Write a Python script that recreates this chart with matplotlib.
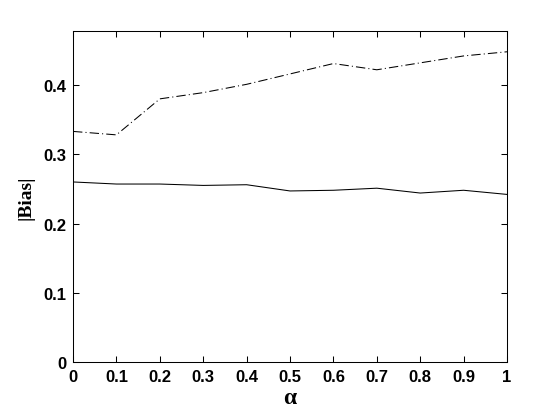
import numpy as np
import matplotlib
matplotlib.use("Agg")
import matplotlib.pyplot as plt
from matplotlib.font_manager import FontProperties

# values
alpha = [0.0, 0.1, 0.2, 0.3, 0.4, 0.5, 0.6, 0.7, 0.8, 0.9, 1.0]
bias_solid = [0.260, 0.257, 0.257, 0.255, 0.256, 0.247, 0.248, 0.251, 0.244, 0.248, 0.242]
bias_dashdot = [0.333, 0.328, 0.380, 0.389, 0.401, 0.416, 0.431, 0.422, 0.432, 0.442, 0.448]
xticks = [0, 0.1, 0.2, 0.3, 0.4, 0.5, 0.6, 0.7, 0.8, 0.9, 1]
xtick_labels = ["0", "0.1", "0.2", "0.3", "0.4", "0.5", "0.6", "0.7", "0.8", "0.9", "1"]
yticks = [0, 0.1, 0.2, 0.3, 0.4]
ytick_labels = ["0", "0.1", "0.2", "0.3", "0.4"]

fig = plt.figure(figsize=(5.6, 4.14), dpi=100)
ax = fig.add_axes([0.1304, 0.1232, 0.775, 0.7995])

ax.plot(alpha, bias_solid, color="black", linewidth=0.75)
ax.plot(alpha, bias_dashdot, color="black", linewidth=0.75, linestyle=(0, (9, 3, 1, 3)))

ax.set_xlim(0, 1)
ax.set_ylim(0, 0.478)
ax.set_xticks(xticks)
ax.set_xticklabels(xtick_labels)
ax.set_yticks(yticks)
ax.set_yticklabels(ytick_labels)

tick_fp = FontProperties(family="Liberation Sans", weight="bold", size=12)
for lab in ax.get_xticklabels() + ax.get_yticklabels():
    lab.set_fontproperties(tick_fp)

ax.tick_params(direction="in", length=4, width=0.75, top=True, right=True, pad=5)
for sp in ax.spines.values():
    sp.set_linewidth(0.75)

ax.set_xlabel("α", family="Liberation Serif", weight="bold", fontsize=17, labelpad=2)
ax.set_ylabel("|Bias|", family="Liberation Serif", weight="bold", fontsize=14, labelpad=6)

fig.savefig("out.png", dpi=100)
